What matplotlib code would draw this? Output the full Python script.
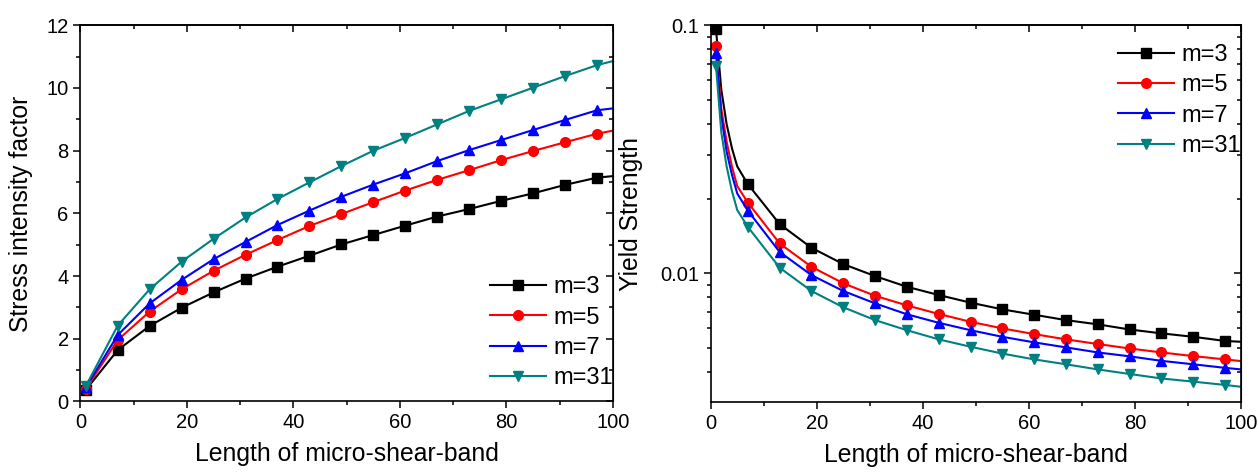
import matplotlib
matplotlib.use("Agg")
import matplotlib.pyplot as plt
from matplotlib.ticker import MultipleLocator, LogLocator, NullFormatter, FixedLocator

plt.rcParams['font.family'] = ['Liberation Sans', 'DejaVu Sans']

# Left panel: stress intensity factor (markers at 1, 7, ..., 97; line ends at 100)
x_left = [1, 7, 13, 19, 25, 31, 37, 43, 49, 55, 61, 67, 73, 79, 85, 91, 97, 100]
k_m3 = [0.37, 1.64, 2.41, 2.99, 3.48, 3.92, 4.30, 4.65, 5.01, 5.31, 5.61, 5.90, 6.14, 6.40, 6.64, 6.91, 7.14, 7.19]
k_m5 = [0.40, 1.96, 2.87, 3.58, 4.17, 4.68, 5.15, 5.60, 5.98, 6.36, 6.73, 7.07, 7.38, 7.70, 7.99, 8.27, 8.54, 8.64]
k_m7 = [0.45, 2.12, 3.13, 3.88, 4.54, 5.09, 5.63, 6.09, 6.53, 6.92, 7.28, 7.67, 8.02, 8.34, 8.66, 8.98, 9.29, 9.35]
k_m31 = [0.49, 2.42, 3.58, 4.46, 5.19, 5.87, 6.46, 6.99, 7.51, 8.00, 8.41, 8.84, 9.27, 9.64, 10.01, 10.38, 10.73, 10.86]

# Right panel: yield strength (log scale)
x_right = [1, 2, 3, 4, 5, 7, 13, 19, 25, 31, 37, 43, 49, 55, 61, 67, 73, 79, 85, 91, 97, 100]
ys_m3 = [0.0963, 0.055, 0.040, 0.032, 0.027, 0.0229, 0.0158, 0.01268, 0.01090, 0.00975, 0.00883, 0.00818,
         0.00762, 0.00716, 0.00681, 0.00648, 0.00623, 0.00594, 0.00573, 0.00555, 0.00534, 0.00530]
ys_m5 = [0.0825, 0.046, 0.034, 0.027, 0.0225, 0.0193, 0.0132, 0.01063, 0.00912, 0.00812, 0.00743, 0.00686,
         0.00638, 0.00600, 0.00569, 0.00542, 0.00519, 0.00498, 0.00480, 0.00464, 0.00450, 0.00443]
ys_m7 = [0.0776, 0.043, 0.031, 0.025, 0.021, 0.0179, 0.0122, 0.00984, 0.00849, 0.00757, 0.00684, 0.00632,
         0.00590, 0.00555, 0.00527, 0.00503, 0.00480, 0.00463, 0.00444, 0.00430, 0.00416, 0.00410]
ys_m31 = [0.0687, 0.037, 0.027, 0.0215, 0.018, 0.0154, 0.01054, 0.00849, 0.00730, 0.00648, 0.00590, 0.00542,
          0.00506, 0.00475, 0.00450, 0.00430, 0.00410, 0.00393, 0.00377, 0.00366, 0.00355, 0.00349]

labels = ['m=3', 'm=5', 'm=7', 'm=31']
colors = ['black', '#ff0000', '#0000ff', '#008080']
markers = ['s', 'o', '^', 'v']

fig = plt.figure(figsize=(12.59, 4.72), dpi=100)
ax1 = fig.add_axes([0.0639, 0.1494, 0.423, 0.797])
ax2 = fig.add_axes([0.5645, 0.1483, 0.4212, 0.798])

left_every = list(range(17))
right_every = [0] + list(range(5, 21))

for ys, lab, c, mk in zip([k_m3, k_m5, k_m7, k_m31], labels, colors, markers):
    ax1.plot(x_left, ys, color=c, marker=mk, markersize=7, linewidth=1.5,
             markevery=left_every, label=lab, clip_on=False)

for ys, lab, c, mk in zip([ys_m3, ys_m5, ys_m7, ys_m31], labels, colors, markers):
    ax2.plot(x_right, ys, color=c, marker=mk, markersize=7, linewidth=1.5,
             markevery=right_every, label=lab)

ax1.set_xlim(0, 100)
ax1.set_ylim(0, 12)
ax1.xaxis.set_major_locator(MultipleLocator(20))
ax1.xaxis.set_minor_locator(MultipleLocator(10))
ax1.yaxis.set_major_locator(MultipleLocator(2))
ax1.yaxis.set_minor_locator(MultipleLocator(1))

ax2.set_xlim(0, 100)
ax2.set_yscale('log')
ax2.set_ylim(0.00303, 0.1)
ax2.xaxis.set_major_locator(MultipleLocator(20))
ax2.xaxis.set_minor_locator(MultipleLocator(10))
ax2.yaxis.set_major_locator(FixedLocator([0.01, 0.1]))
ax2.yaxis.set_minor_locator(LogLocator(base=10, subs=range(2, 10)))
ax2.yaxis.set_minor_formatter(NullFormatter())
ax2.set_yticklabels(['0.01', '0.1'])

for ax in (ax1, ax2):
    for sp in ax.spines.values():
        sp.set_linewidth(1.2)
    ax.tick_params(which='both', labelsize=14.5, width=1.1)
    ax.tick_params(which='major', length=5)
    ax.tick_params(which='minor', length=3)
    ax.tick_params(which='both', bottom=True, left=True, direction='out')
    # inward ticks on the top and right spines
    sec_x = ax.secondary_xaxis('top')
    sec_x.set_xticks(ax.get_xticks(), labels=[])
    sec_x.xaxis.set_minor_locator(MultipleLocator(10))
    sec_x.tick_params(which='both', direction='in', width=1.1)
    sec_x.tick_params(which='major', length=5)
    sec_x.tick_params(which='minor', length=3)
    sec_x.spines['top'].set_linewidth(1.2)
    ax.set_xlabel('Length of micro-shear-band', fontsize=17.8)
    ax.xaxis.set_label_coords(0.5, -0.108)

sec_y1 = ax1.secondary_yaxis('right')
sec_y1.yaxis.set_major_locator(MultipleLocator(2))
sec_y1.yaxis.set_minor_locator(MultipleLocator(1))
sec_y1.yaxis.set_major_formatter(NullFormatter())
sec_y1.tick_params(which='both', direction='in', width=1.1)
sec_y1.tick_params(which='major', length=5)
sec_y1.tick_params(which='minor', length=3)

sec_y2 = ax2.secondary_yaxis('right')
sec_y2.yaxis.set_major_locator(FixedLocator([0.01, 0.1]))
sec_y2.yaxis.set_minor_locator(LogLocator(base=10, subs=range(2, 10)))
sec_y2.yaxis.set_major_formatter(NullFormatter())
sec_y2.yaxis.set_minor_formatter(NullFormatter())
sec_y2.tick_params(which='both', direction='in', width=1.1)
sec_y2.tick_params(which='major', length=5)
sec_y2.tick_params(which='minor', length=3)

ax1.set_ylabel('Stress intensity factor', fontsize=17.8)
ax1.yaxis.set_label_coords(-0.09, 0.5)
ax2.set_ylabel('Yield Strength', fontsize=17.8)
ax2.yaxis.set_label_coords(-0.127, 0.5)

ax1.legend(loc='lower right', bbox_to_anchor=(1.0, 0.033), frameon=False, fontsize=17,
           handlelength=2.37, handletextpad=0.3, labelspacing=0.35, borderpad=0, borderaxespad=0)
ax2.legend(loc='upper right', bbox_to_anchor=(1.0, 0.95), frameon=False, fontsize=17,
           handlelength=2.37, handletextpad=0.3, labelspacing=0.35, borderpad=0, borderaxespad=0)

fig.savefig('out.png', dpi=100)
